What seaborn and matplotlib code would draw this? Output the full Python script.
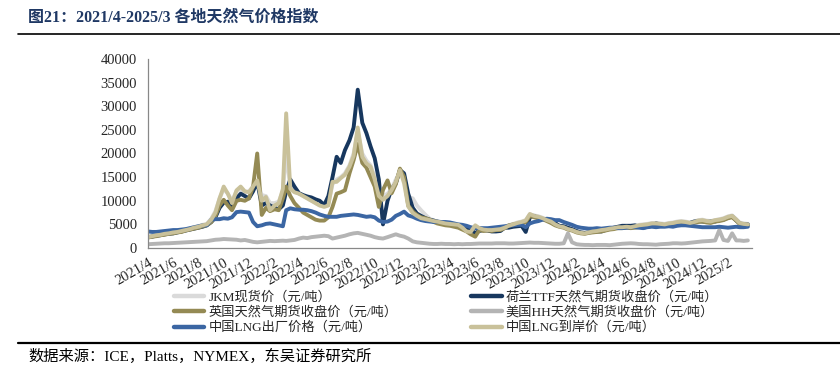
import pandas as pd
import seaborn as sns
import matplotlib.pyplot as plt
import matplotlib.dates as mdates
from matplotlib.lines import Line2D
from matplotlib.ticker import FuncFormatter

# sample dates: 1st, 11th and 21st of each month, 2021/4 - 2025/3
months = pd.date_range('2021-04-01', '2025-03-01', freq='MS')
dates = [m + pd.Timedelta(days=d) for m in months for d in (0, 10, 20)]

# values in 元/吨, three per month
jkm = [2400, 2600, 2800, 2900, 3100, 3200, 3400, 3500, 3700, 3900, 4100, 4400,
       4600, 4900, 5100, 6200, 7800, 10500, 12500, 11500, 10000, 12000, 12500, 11800,
       12000, 13000, 14000,
       11200, 11000, 9500, 9500, 9800, 12000, 20000, 13000, 12000, 11500, 11000, 10500,
       10000, 9500, 9000, 9000, 9500, 13500, 14500, 15000, 15800, 17500, 20000, 24500,
       20000, 18500, 17500, 15000, 11500, 11000, 11500, 12500, 14500, 16000, 14500, 10800,
       10500, 9000, 8000, 7000, 6200, 5800, 5600, 5400, 5200, 5100, 5000, 4800,
       4400, 3800, 3600, 4300, 4200, 4000, 3900, 3900, 4000, 4200, 4500, 4800,
       5100, 5400, 5600, 5900, 7100, 6900, 6700, 6400, 6000, 5700, 5100, 4700,
       4400, 4100, 3900, 3500, 3300, 3200, 3400, 3500, 3700, 3800, 4000, 4200,
       4300, 4500, 4500, 4600, 4500, 4700, 4900, 5000, 5100, 5300, 5300, 5200,
       5100, 5300, 5400, 5600, 5700, 5600, 5400, 5600, 5900, 6000, 5800, 5700,
       5900, 6100, 6300, 6700, 6900, 6100, 5400, 5200, 5100]

ttf = [2300, 2400, 2600, 2700, 2900, 3000, 3100, 3300, 3500, 3700, 3900, 4100,
       4300, 4500, 4800, 5500, 6500, 8500, 9600, 9800, 9000, 10500, 11500, 11000,
       10500, 12000, 14000,
       9000, 9500, 9000, 8500, 8200, 9000, 12000, 14500, 13000, 11600, 11200, 10900,
       10700, 10300, 10000, 9100, 11000, 15000, 19300, 18000, 20700, 22800, 25500, 33500,
       26500, 24300, 21500, 19000, 14500, 5000, 10000, 12500, 13700, 16500, 15800, 11500,
       8500, 7300, 6800, 6300, 6000, 5800, 5600, 5300, 5200, 5100, 4900, 4700,
       4300, 4000, 3700, 3200, 3600, 3800, 3700, 3500, 3500, 3600, 4300, 4300,
       4500, 4600, 4700, 3400, 6500, 6800, 6300, 6100, 6000, 5800, 5300, 4700,
       4600, 4300, 4000, 3600, 3300, 3200, 3300, 3400, 3500, 3500, 3800, 4100,
       4300, 4500, 4700, 4700, 4700, 4800, 4500, 4300, 4500, 4700, 5200, 5000,
       4800, 4700, 5000, 5200, 5200, 5300, 5300, 5600, 5700, 5600, 5500, 5600,
       5600, 5900, 6000, 6400, 6700, 5800, 5200, 5000, 5000]

nbp = [2200, 2400, 2500, 2700, 2800, 3000, 3100, 3300, 3400, 3700, 3900, 4100,
       4300, 4600, 4800, 5500, 6800, 9000, 10200, 9000, 8000, 10000, 10200, 10000,
       10500, 13000, 20000,
       7000, 8500, 7800, 8200, 8000, 10500, 13000, 11000, 9500, 8500, 7500, 7000,
       6500, 6000, 5800, 5800, 6500, 8700, 11500, 11800, 12200, 15800, 18600, 22000,
       18000, 17000, 15000, 13000, 8700, 12300, 14300, 11600, 13500, 16800, 15000, 9000,
       7700, 7000, 6500, 6300, 6000, 5500, 5200, 5000, 4800, 4700, 4500, 4300,
       3900, 3500, 2900, 2400, 3800, 3600, 3700, 3600, 3800, 3800, 4200, 4800,
       5000, 5000, 5200, 5500, 6800, 6500, 6300, 6100, 5700, 5300, 4800, 4500,
       4300, 3900, 3700, 3300, 3100, 3000, 3200, 3300, 3400, 3500, 3700, 3900,
       4000, 4200, 4200, 4300, 4200, 4300, 4400, 4500, 4600, 4800, 4900, 4800,
       4700, 4900, 5000, 5200, 5300, 5200, 5100, 5300, 5500, 5600, 5400, 5300,
       5600, 5700, 5900, 6300, 6500, 5800, 5100, 4900, 4800]

hh = [800, 850, 900, 950, 1000, 1000, 1050, 1100, 1150, 1200, 1250, 1300,
      1350, 1400, 1450, 1600, 1750, 1800, 1900, 1850, 1800, 1750, 1600, 1700,
      1500, 1300, 1200,
      1300, 1400, 1500, 1450, 1500, 1550, 1500, 1600, 1700, 2000, 2200, 2100,
      2300, 2400, 2500, 2600, 2500, 2000, 2200, 2400, 2600, 2900, 3100, 3200,
      3000, 2800, 2600, 2300, 2100, 2000, 2300, 2600, 2900, 2600, 2400, 2000,
      1400, 1200, 1100, 1000, 900, 850, 850, 900, 850, 850, 800, 850,
      800, 850, 850, 900, 950, 950, 950, 950, 1000, 1000, 1000, 950,
      950, 1000, 1050, 1100, 1150, 1100, 1100, 1050, 1000, 950, 900, 900,
      1000, 3100, 1200, 800, 700, 650, 650, 600, 650, 650, 650, 600,
      700, 800, 900, 950, 1000, 950, 850, 800, 800, 750, 700, 800,
      850, 900, 1000, 1000, 950, 1000, 1100, 1200, 1300, 1400, 1450, 1500,
      1600, 3800, 1700, 1500, 3100, 1600, 1600, 1500, 1600]

lng_plant = [3500, 3400, 3400, 3500, 3600, 3700, 3800, 3800, 3900, 4000, 4200, 4400,
             4600, 4800, 4800, 6000, 6100, 6100, 6300, 6200, 6500, 7600, 7700, 7600,
             7500, 5500, 4600,
             4800, 5100, 5200, 5000, 4800, 4600, 8000, 8400, 8200, 8100, 8100, 8000,
             7800, 7500, 7100, 6800, 6600, 6600, 6600, 6800, 6900, 7000, 7100, 7000,
             6800, 6600, 6700, 6500, 5800, 5500, 5600, 6000, 6800, 7200, 7700, 6900,
             6600, 6200, 5900, 5700, 5600, 5500, 5600, 5500, 5500, 5400, 5200, 5000,
             4900, 4700, 4400, 4200, 4200, 4200, 4200, 4300, 4400, 4500, 4600, 4700,
             4800, 4900, 4900, 4400, 5200, 5500, 5700, 6000, 6200, 6100, 5900, 5900,
             5500, 5200, 4900, 4500, 4300, 4200, 4100, 4100, 4200, 4100, 4200, 4300,
             4300, 4200, 4200, 4300, 4400, 4400, 4300, 4200, 4400, 4500, 4400, 4500,
             4500, 4600, 4500, 4700, 4800, 4800, 4700, 4600, 4500, 4400, 4400, 4400,
             4400, 4500, 4400, 4300, 4400, 4500, 4400, 4400, 4500]

lng_landed = [2300, 2500, 2700, 2800, 3000, 3100, 3300, 3400, 3600, 3800, 4000, 4300,
              4500, 4800, 5000, 6000, 7500, 10500, 13000, 11500, 9500, 12200, 13000, 12000,
              11800, 13000, 14300,
              10000, 10800, 8000, 9000, 9500, 12500, 28500, 12500, 11800, 11500, 11000, 10500,
              10000, 9500, 9000, 8700, 9000, 14000, 14000, 14800, 15500, 17200, 19500, 25500,
              19300, 17900, 17200, 14500, 11000, 10200, 11000, 12300, 14000, 16500, 13700, 8800,
              7400, 6800, 6300, 6100, 5900, 5700, 5600, 5400, 5200, 5100, 5000, 4900,
              4300, 3500, 3400, 4800, 4200, 3900, 3800, 3800, 3900, 4000, 4300, 4700,
              5000, 5300, 5500, 5800, 7200, 6800, 6600, 6300, 5900, 5600, 5000, 4600,
              4400, 4000, 3800, 3400, 3200, 3100, 3300, 3500, 3600, 3800, 3900, 4100,
              4200, 4400, 4400, 4500, 4400, 4600, 4800, 4900, 5000, 5200, 5200, 5100,
              5000, 5200, 5300, 5500, 5600, 5500, 5300, 5500, 5800, 5900, 5700, 5600,
              5900, 6000, 6200, 6600, 6800, 6000, 5300, 5100, 5000]

names = ['JKM现货价（元/吨）', '荷兰TTF天然气期货收盘价（元/吨）', '英国天然气期货收盘价（元/吨）',
         '美国HH天然气期货收盘价（元/吨）', '中国LNG出厂价格（元/吨）', '中国LNG到岸价（元/吨）']
colors = ['#dadada', '#17375e', '#948a54', '#b4b4b4', '#3b66a3', '#c9c19a']

series = [jkm, ttf, nbp, hh, lng_plant, lng_landed]
df = pd.concat([pd.DataFrame({'date': dates, 'value': v, 'series': n})
                for n, v in zip(names, series)], ignore_index=True)

sns.set_theme(style='white')
plt.rcParams['font.family'] = ['Liberation Serif', 'Noto Sans CJK SC']
plt.rcParams['axes.unicode_minus'] = False

fig = plt.figure(figsize=(8.4, 3.72), dpi=100)
ax = fig.add_axes([148 / 840, 1 - 248 / 372, 604 / 840, 189 / 372])

sns.lineplot(data=df, x='date', y='value', hue='series', hue_order=names,
             palette=colors, linewidth=2.8, estimator=None, legend=False, ax=ax)

ax.set_xlim(pd.Timestamp('2021-04-01'), pd.Timestamp('2025-03-31'))
ax.set_ylim(0, 40000)
ax.set_yticks(range(0, 40001, 5000))
ax.set_xlabel('')
ax.set_ylabel('')
ax.xaxis.set_major_locator(mdates.MonthLocator(bymonth=range(2, 13, 2)))
ax.xaxis.set_major_formatter(FuncFormatter(
    lambda v, _: f"{mdates.num2date(v).year}/{mdates.num2date(v).month}"))
for lab in ax.get_xticklabels():
    lab.set_rotation(30)
    lab.set_ha('right')
    lab.set_va('top')
    lab.set_rotation_mode('anchor')
ax.tick_params(axis='x', length=3, width=0.8, color='#888888', direction='out',
               labelsize=10.5, pad=3)
ax.tick_params(axis='y', length=0, labelsize=10.5, pad=8)
for s in ['top', 'right']:
    ax.spines[s].set_visible(False)
for s in ['left', 'bottom']:
    ax.spines[s].set_color('#888888')
    ax.spines[s].set_linewidth(0.9)

# legend, rows: (JKM, TTF), (NBP, HH), (出厂, 到岸)
order = [0, 2, 4, 1, 3, 5]
handles = [Line2D([], [], color=colors[i], lw=3.2) for i in order]
fig.legend(handles, [names[i] for i in order], ncol=2, frameon=False,
           loc='upper left', bbox_to_anchor=(174 / 840, 1 - 291 / 372),
           fontsize=9.5, handlelength=2.3, handletextpad=0.3,
           columnspacing=5.6, labelspacing=0.2, borderaxespad=0, borderpad=0)

fig.text(28 / 840, 1 - 18 / 372, '图21：2021/4-2025/3 各地天然气价格指数',
         fontsize=11.5, fontweight='bold', color='#1f3864', va='center')
fig.add_artist(Line2D([18 / 840, 1], [1 - 34 / 372] * 2, transform=fig.transFigure,
                      color='black', lw=1.2))
fig.add_artist(Line2D([18 / 840, 1], [1 - 343 / 372] * 2, transform=fig.transFigure,
                      color='black', lw=1.6))
fig.text(28 / 840, 1 - 356 / 372, '数据来源：ICE，Platts，NYMEX，东吴证券研究所',
         fontsize=11, color='black', va='center')

fig.savefig('out.png', dpi=100)
